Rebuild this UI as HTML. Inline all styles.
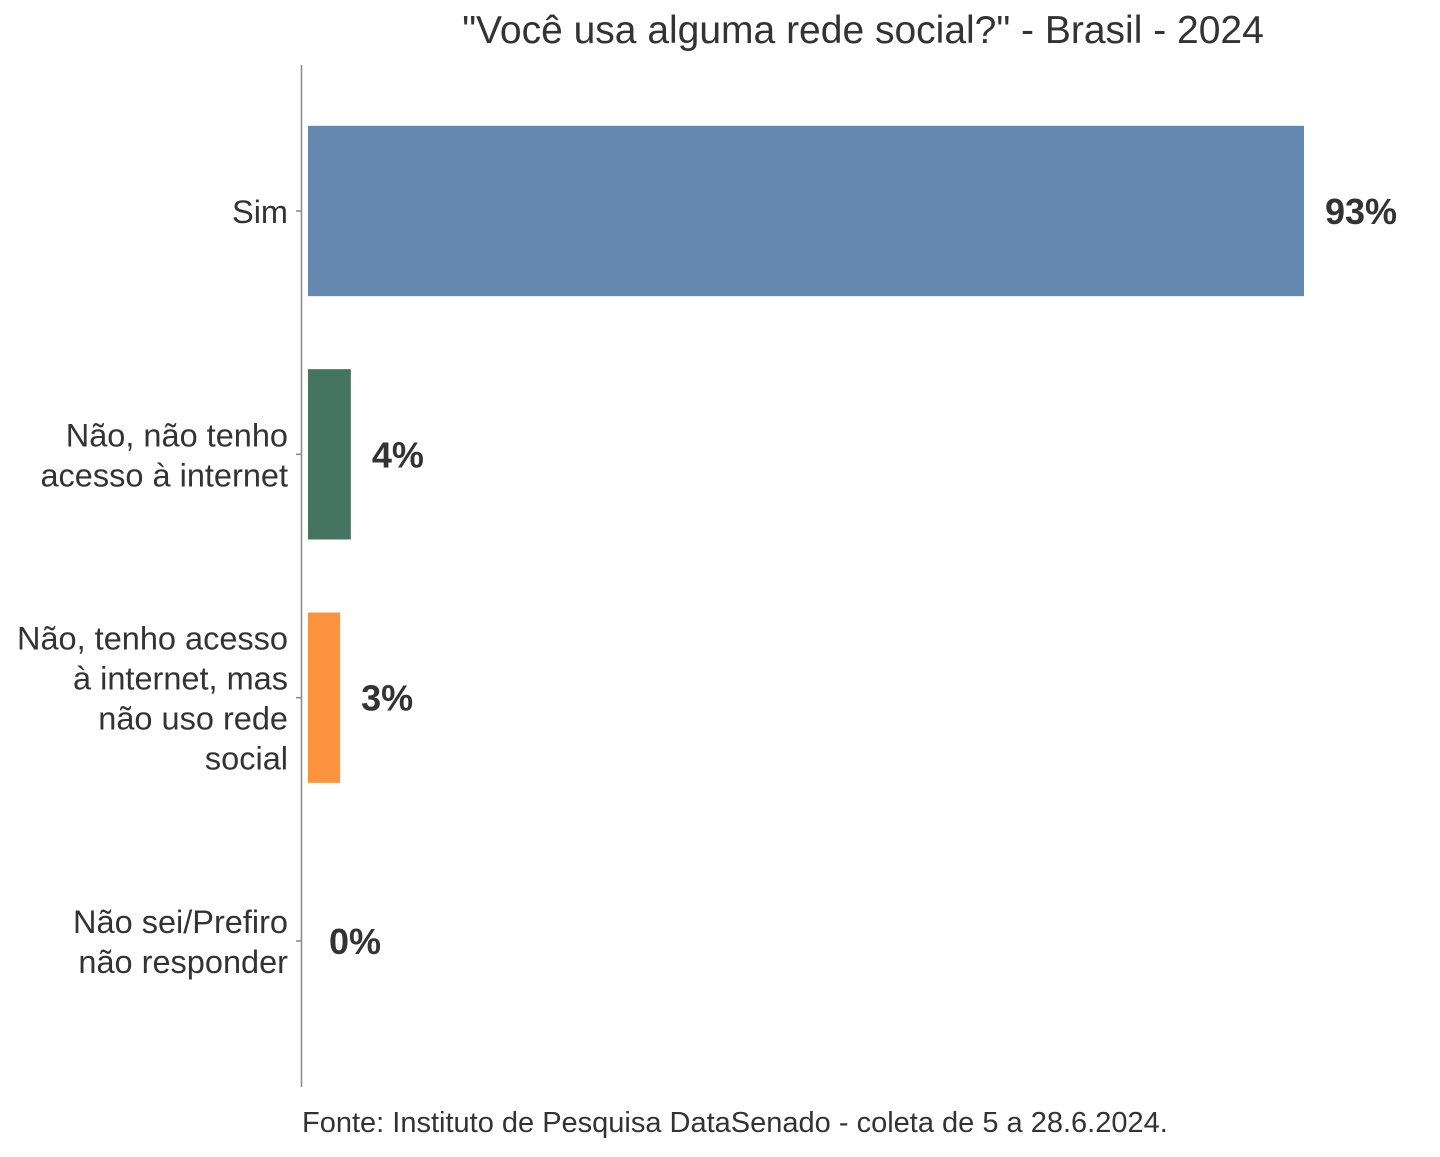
<!DOCTYPE html>
<html><head><meta charset="utf-8"><style>
html,body{margin:0;padding:0;background:#fff;}
svg text{font-family:"Liberation Sans","DejaVu Sans",sans-serif;}
</style></head><body>
<svg id="chart" width="1440" height="1152" xmlns="http://www.w3.org/2000/svg">
<text x="863" y="43" text-anchor="middle" font-size="39" fill="#333">"Você usa alguma rede social?" - Brasil - 2024</text>
<line x1="301.5" y1="65" x2="301.5" y2="1087" stroke="#888" stroke-width="1.5"/>
<g id="bars"></g>
<text x="302" y="1132" font-size="29" fill="#333">Fonte: Instituto de Pesquisa DataSenado - coleta de 5 a 28.6.2024.</text>
</svg>
<script>
const categories = [["Sim"],["Não, não tenho","acesso à internet"],["Não, tenho acesso","à internet, mas","não uso rede","social"],["Não sei/Prefiro","não responder"]];
const values = [93, 4, 3, 0];
const valueLabels = ["93%","4%","3%","0%"];
const colors = ["#6488B0","#467462","#FB933F","#999999"];

const NS="http://www.w3.org/2000/svg";
const g=document.getElementById('bars');
const x0=308, pxPer=996/93;
const yTop=65, yBot=1087;
const band=(yBot-yTop)/(categories.length-1+1.2);
const xScale=v=>x0+v*pxPer;
const yScale=i=>yTop+band*(0.6+i);
const bw=band*0.7;
function mk(t,a){const e=document.createElementNS(NS,t);for(const k in a)e.setAttribute(k,a[k]);g.appendChild(e);return e;}
categories.forEach((c,i)=>{
  const cy=yScale(i);
  const r=mk('rect',{x:x0,y:cy-bw/2,width:Math.max(0,xScale(values[i])-x0),height:bw,fill:colors[i]});
  
  
  const tk=mk('line',{x1:296,x2:301,y1:cy,y2:cy,stroke:'#888','stroke-width':1.5});
  
  
  const lh=40, n=c.length;
  c.forEach((ln,j)=>{
    const t=mk('text',{x:288,y:cy+12+(j-(n-1)/2)*lh,'text-anchor':'end','font-size':32.5,fill:'#333'});
    t.textContent=ln;
    
    
  });
  const v=mk('text',{x:xScale(values[i])+21,y:cy+13,'font-size':36,'font-weight':'bold',fill:'#333'});
  v.textContent=valueLabels[i];
  
  
});
</script>
</body></html>
